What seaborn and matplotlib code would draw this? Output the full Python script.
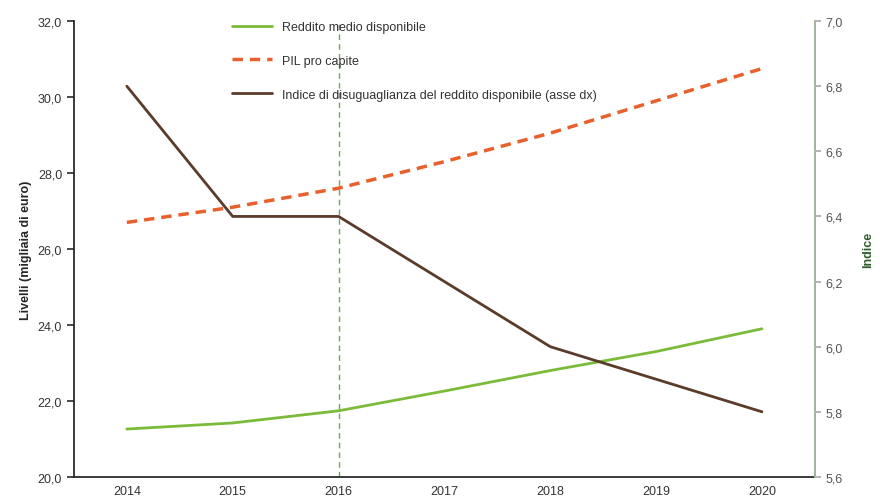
import matplotlib

matplotlib.use("Agg")
import matplotlib.pyplot as plt
import matplotlib.ticker as mticker
import seaborn as sns

anni = ["2014", "2015", "2016", "2017", "2018", "2019", "2020"]
reddito = [21.26, 21.42, 21.74, 22.26, 22.80, 23.30, 23.90]
pil = [26.70, 27.10, 27.60, 28.30, 29.05, 29.90, 30.75]
indice = [6.80, 6.40, 6.40, 6.20, 6.00, 5.90, 5.80]

sns.set_theme(style="white")
plt.rcParams["font.family"] = ["Liberation Sans", "DejaVu Sans"]

fig, ax = plt.subplots(figsize=(8.8, 5.02), dpi=100)
ax2 = ax.twinx()
x = list(range(len(anni)))

sns.lineplot(x=x, y=reddito, ax=ax, color="#7cbb3a", lw=2, label="Reddito medio disponibile", legend=False)
sns.lineplot(x=x, y=pil, ax=ax, color="#e8602c", lw=2.5, dashes=False, label="PIL pro capite", legend=False)
ax.lines[-1].set_linestyle((0, (3, 2)))
sns.lineplot(x=x, y=indice, ax=ax2, color="#5b3b2a", lw=2,
             label="Indice di disuguaglianza del reddito disponibile (asse dx)", legend=False)
ax.axvline(2, color="#6aaa5a", lw=1, ls=(0, (4, 3)))

ax.set_xlim(-0.5, 6.5)
ax.set_ylim(20, 32)
ax2.set_ylim(5.6, 7.0)
ax.set_xticks(x)
ax.set_xticklabels(anni)
ax.xaxis.set_minor_locator(mticker.FixedLocator([i + 0.5 for i in range(-1, 7)]))
ax.tick_params(axis="x", which="major", length=0, labelsize=9, colors="#333333", pad=6)
ax.tick_params(axis="x", which="minor", length=5, color="#333333", direction="in")
ax.set_yticks([20, 22, 24, 26, 28, 30, 32])
ax2.set_yticks([5.6, 5.8, 6.0, 6.2, 6.4, 6.6, 6.8, 7.0])
ax.yaxis.set_major_formatter(mticker.FuncFormatter(lambda v, p: f"{v:.1f}".replace(".", ",")))
ax2.yaxis.set_major_formatter(mticker.FuncFormatter(lambda v, p: f"{v:.1f}".replace(".", ",")))
ax.tick_params(axis="y", length=5, direction="out", labelsize=9, colors="#333333", left=True)
ax2.tick_params(axis="y", length=4, direction="out", labelsize=9, colors="#555555", right=True, color="#aaaaaa")

ax.set_ylabel("Livelli (migliaia di euro)", fontweight="bold", fontsize=9)
ax2.set_ylabel("Indice", fontweight="bold", fontsize=9, color="#2e5e2a", labelpad=14)

for a in (ax, ax2):
    a.spines["top"].set_visible(False)
ax.spines["left"].set_color("#222222")
ax.spines["bottom"].set_color("#222222")
ax2.spines["left"].set_visible(False)
ax2.spines["bottom"].set_visible(False)
ax2.spines["right"].set_color("#b0c8a8")

h1, l1 = ax.get_legend_handles_labels()
h2, l2 = ax2.get_legend_handles_labels()
ax.legend(h1 + h2, l1 + l2, loc="upper left", bbox_to_anchor=(0.198, 1.025), frameon=False,
          fontsize=9, handlelength=3.2, labelspacing=1.75, labelcolor="#333333")

fig.subplots_adjust(left=0.084, right=0.926, top=0.956, bottom=0.048)
fig.savefig("out.png", dpi=100)
